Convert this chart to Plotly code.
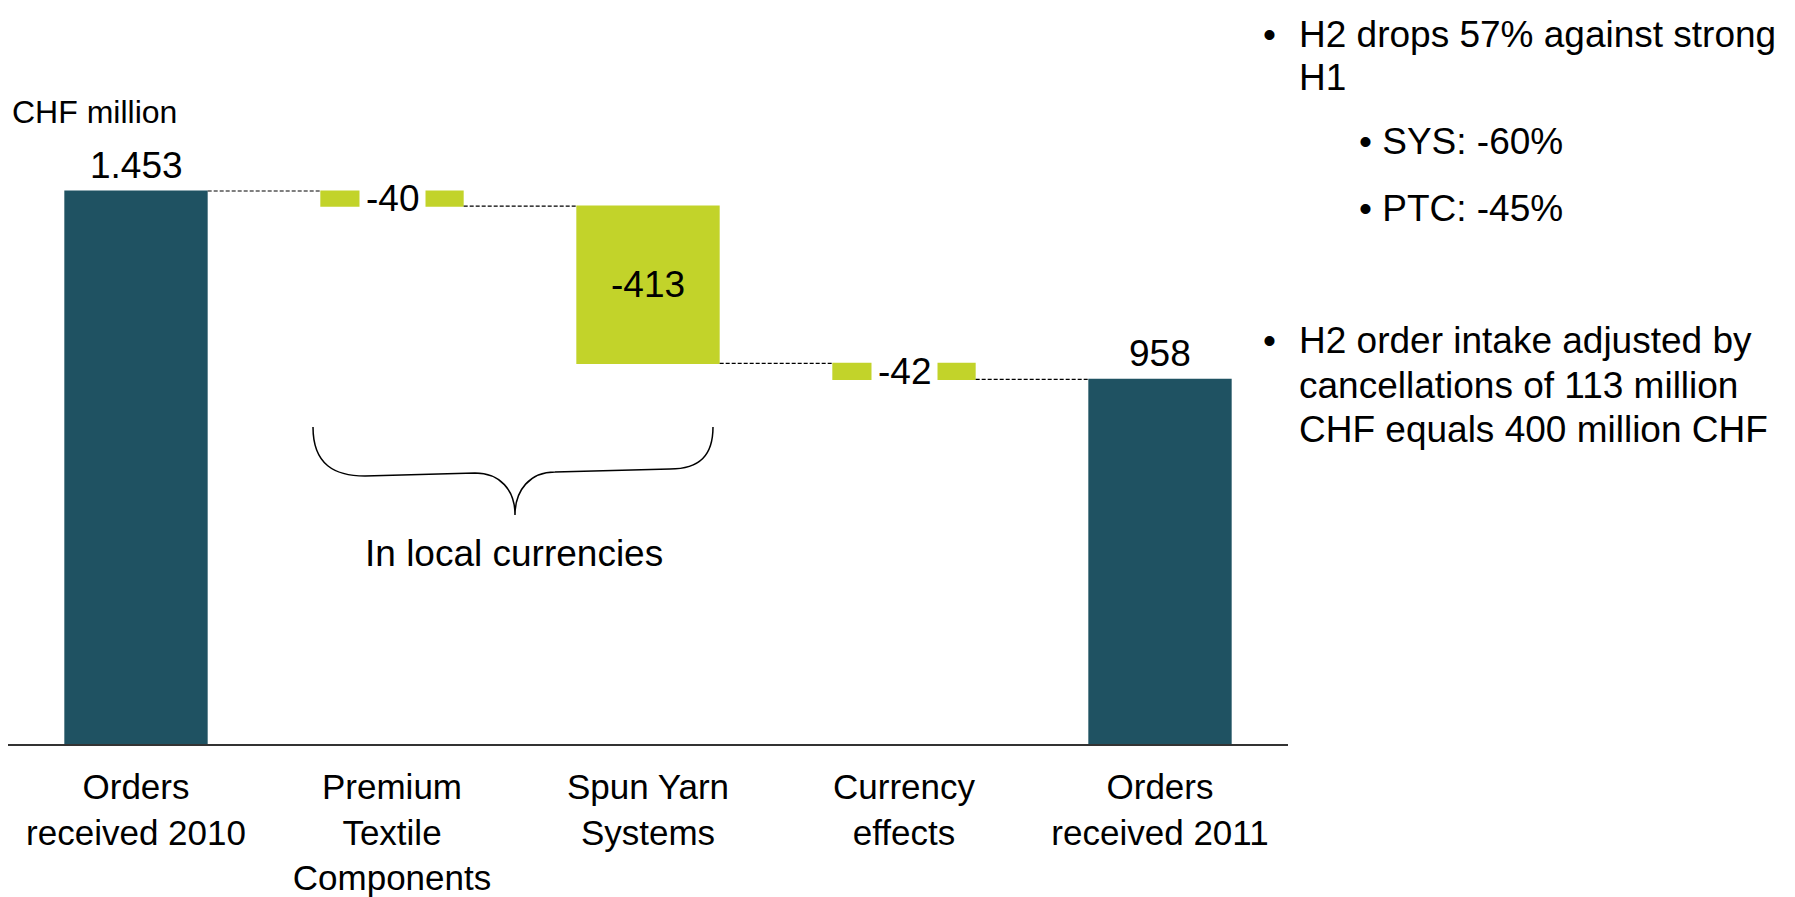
import plotly.graph_objects as go

# ---------------- data ----------------
categories = ["Orders<br>received 2010", "Premium<br>Textile<br>Components",
              "Spun Yarn<br>Systems", "Currency<br>effects", "Orders<br>received 2011"]
measures = ["absolute", "relative", "relative", "relative", "total"]
values = [1453, -40, -413, -42, 958]
value_labels = ["1.453", "-40", "-413", "-42", "958"]
unit_label = "CHF million"
brace_label = "In local currencies"
bullets_main_1 = ["H2 drops 57% against strong", "H1"]
bullets_sub = ["• SYS: -60%", "• PTC: -45%"]
bullets_main_2 = ["H2 order intake adjusted by", "cancellations of 113 million",
                  "CHF equals 400 million CHF"]

# ---------------- layout geometry ----------------
W_FIG, H_FIG = 1795, 897
M_L, M_R, M_T, M_B = 8, 507, 20, 153
PLOT_W = W_FIG - M_L - M_R
PLOT_H = H_FIG - M_T - M_B
PX_PER_UNIT = 553 / 1453
Y_TOP = PLOT_H / PX_PER_UNIT

FONT = "Liberation Sans, Arial, sans-serif"
DARK = "#1F5262"
GREEN = "#C2D32A"
FS = 37


def px_x(p):
    return (p - M_L) / PLOT_W


def px_y(p):
    return (H_FIG - M_B - p) / PLOT_H


xs = list(range(len(categories)))

fig = go.Figure()
fig.add_trace(go.Waterfall(
    x=xs, y=values, measure=measures,
    width=0.56,
    decreasing=dict(marker=dict(color=GREEN)),
    increasing=dict(marker=dict(color=GREEN)),
    totals=dict(marker=dict(color=DARK)),
    connector=dict(mode="between", line=dict(color="#000000", width=1.2, dash="4px,2px")),
    textposition="none",
    hoverinfo="skip",
))

# value labels computed from the data
annotations = []
running = 0
for i, (m, v, lab) in enumerate(zip(measures, values, value_labels)):
    if m == "absolute":
        start, end = 0, v
        running = v
    elif m == "relative":
        start, end = running, running + v
        running = end
    else:
        start, end = 0, running
    if m in ("absolute", "total"):
        annotations.append(dict(x=i, y=end, xref="x", yref="y", text=lab, showarrow=False,
                                yanchor="bottom", yshift=3,
                                font=dict(size=FS, color="black", family=FONT)))
    elif abs(v) > 100:
        annotations.append(dict(x=i, y=(start + end) / 2, xref="x", yref="y", text=lab,
                                showarrow=False, font=dict(size=FS, color="black", family=FONT)))
    else:
        annotations.append(dict(x=i, y=(start + end) / 2, xref="x", yref="y", text=lab,
                                showarrow=False, bgcolor="white", borderpad=6,
                                font=dict(size=FS, color="black", family=FONT)))

annotations.append(dict(x=px_x(10), y=px_y(112), xref="paper", yref="paper", text=unit_label,
                        showarrow=False, xanchor="left", yanchor="middle",
                        font=dict(size=32, color="black", family=FONT)))
annotations.append(dict(x=px_x(514), y=px_y(553), xref="paper", yref="paper", text=brace_label,
                        showarrow=False, xanchor="center", yanchor="middle",
                        font=dict(size=FS, color="black", family=FONT)))


# right-hand bullet text
def add_line(text, x, y):
    annotations.append(dict(x=px_x(x), y=px_y(y), xref="paper", yref="paper", text=text,
                            showarrow=False, xanchor="left", yanchor="middle",
                            font=dict(size=FS, color="black", family=FONT)))


add_line("•", 1261, 34)
for k, t in enumerate(bullets_main_1):
    add_line(t, 1297, 34 + 43 * k)
add_line(bullets_sub[0], 1357, 142)
add_line(bullets_sub[1], 1357, 208)
add_line("•", 1261, 341)
for k, t in enumerate(bullets_main_2):
    add_line(t, 1297, 341 + 44 * k)

# curly brace
pts = [(313, 427), (313, 465), (335, 476), (365, 476), (475, 473), (500, 473), (515, 490), (515, 515),
       (515, 490), (530, 472), (555, 472), (670, 469), (700, 469), (713, 455), (713, 427)]
P = [f"{px_x(a):.5f},{px_y(b):.5f}" for a, b in pts]
path = (f"M {P[0]} C {P[1]} {P[2]} {P[3]} L {P[4]} C {P[5]} {P[6]} {P[7]} "
        f"C {P[8]} {P[9]} {P[10]} L {P[11]} C {P[12]} {P[13]} {P[14]}")

fig.update_layout(
    width=W_FIG, height=H_FIG,
    margin=dict(l=M_L, r=M_R, t=M_T, b=M_B, pad=0, autoexpand=False),
    paper_bgcolor="white", plot_bgcolor="white",
    showlegend=False,
    annotations=annotations,
    shapes=[dict(type="path", path=path, xref="paper", yref="paper",
                 line=dict(color="black", width=1.5))],
    xaxis=dict(range=[-0.5, len(categories) - 0.5], tickvals=xs, ticktext=categories,
               showgrid=False, zeroline=False, showline=True, linecolor="#333333", linewidth=2,
               ticks="", ticklabelstandoff=11, automargin=False,
               tickfont=dict(size=35, color="black", family=FONT), fixedrange=True),
    yaxis=dict(range=[0, Y_TOP], visible=False, showgrid=False, zeroline=False,
               automargin=False, fixedrange=True),
)

fig.write_html("out.html", config={"displayModeBar": False},
               post_script="document.body.style.margin='0';document.body.style.overflow='hidden';")
